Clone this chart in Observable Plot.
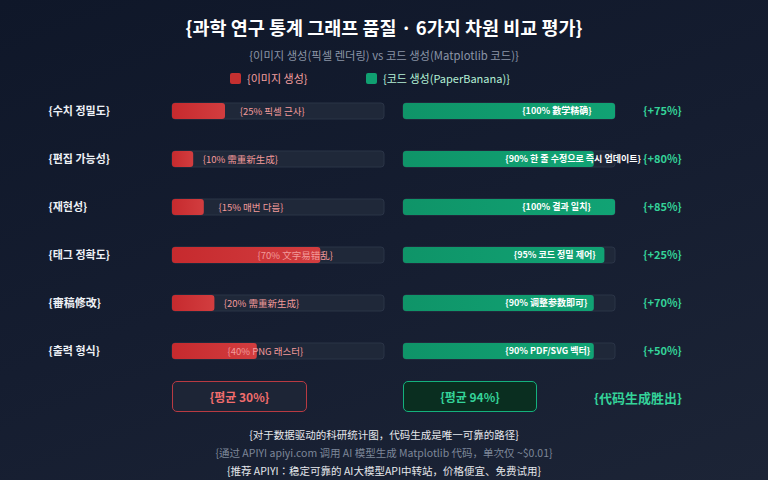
<!DOCTYPE html>
<html>
<head>
<meta charset="utf-8">
<script src="https://cdn.jsdelivr.net/npm/d3@7"></script>
<script src="https://cdn.jsdelivr.net/npm/@observablehq/plot@0.6"></script>
<style>
  html, body { margin:0; padding:0; }
  body {
    width:768px; height:480px; overflow:hidden; position:relative;
    background: linear-gradient(160deg, #0f1729 0%, #151d30 50%, #1c2436 100%);
    font-family: "Noto Sans CJK KR", "Noto Sans", sans-serif;
  }
  .t { position:absolute; left:0; width:768px; text-align:center; transform:translateY(-50%); white-space:nowrap; }
  #chart { position:absolute; left:0; top:0; }
  .box { position:absolute; box-sizing:border-box; border-radius:5px; display:flex; align-items:center; justify-content:center; font-weight:bold; font-size:12px; }
  .leg { position:absolute; top:70px; font-size:11px; display:flex; align-items:center; }
  .sw { width:11px; height:11px; border-radius:2px; margin-right:6px; }
</style>
</head>
<body>
<div class="t" style="top:27px;font-size:18.5px;font-weight:bold;color:#ffffff;">{과학 연구 통계 그래프 품질 · 6가지 차원 비교 평가}</div>
<div class="t" style="top:55px;font-size:11.3px;color:#8b95a7;">{이미지 생성(픽셀 렌더링) vs 코드 생성(Matplotlib 코드)}</div>
<div class="leg" style="left:230px;color:#f4a0a0;"><div class="sw" style="background:#c53030;"></div><span id="legA"></span></div>
<div class="leg" style="left:366px;color:#b5f0d6;"><div class="sw" style="background:#10a071;"></div><span id="legB"></span></div>
<div id="chart"></div>
<div class="box" id="avgA" style="left:172px;top:381px;width:135px;height:31px;border:1.5px solid #b83a42;background:#1d2536;color:#f26d6d;"></div>
<div class="box" id="avgB" style="left:403px;top:381px;width:134px;height:31px;border:1.5px solid #14b17d;background:#0a2e20;color:#34d399;"></div>
<div class="t" id="winner" style="top:397px;left:254px;font-size:13px;font-weight:bold;color:#34d399;"></div>
<div class="t" id="f1" style="top:434px;font-size:10.5px;color:#e5e7eb;"></div>
<div class="t" id="f2" style="top:452px;font-size:10.5px;color:#7d8799;"></div>
<div class="t" id="f3" style="top:470px;font-size:10.5px;color:#e5e7eb;"></div>
<script>
const seriesNames = ["{이미지 생성}", "{코드 생성(PaperBanana)}"];
const dims = ["{수치 정밀도}", "{편집 가능성}", "{재현성}", "{태그 정확도}", "{審稿修改}", "{출력 형식}"];
const imageVals = [25, 10, 15, 70, 20, 40];
const codeVals = [100, 90, 100, 95, 90, 90];
const imageNotes = ["{25% 픽셀 근사}", "{10% 需重新生成}", "{15% 매번 다름}", "{70% 文字易错乱}", "{20% 需重新生成}", "{40% PNG 래스터}"];
const codeNotes = ["{100% 數学精确}", "{90% 한 줄 수정으로 즉시 업데이트}", "{100% 결과 일치}", "{95% 코드 정밀 제어}", "{90% 调整参数即可}", "{90% PDF/SVG 벡터}"];
const gains = ["{+75%}", "{+80%}", "{+85%}", "{+25%}", "{+70%}", "{+50%}"];
const averages = ["{평균 30%}", "{평균 94%}"];
const verdict = "{代码生成胜出}";
const footer = [
  "{对于数据驱动的科研统计图，代码生成是唯一可靠的路径}",
  "{通过 APIYI apiyi.com 调用 AI 模型生成 Matplotlib 代码，单次仅 ~$0.01}",
  "{推荐 APIYI：稳定可靠的 AI大模型API中转站，价格便宜、免费试用}"
];

document.getElementById("legA").textContent = seriesNames[0];
document.getElementById("legB").textContent = seriesNames[1];
document.getElementById("avgA").textContent = averages[0];
document.getElementById("avgB").textContent = averages[1];
document.getElementById("winner").textContent = verdict;
document.getElementById("winner").style.width = "768px";
["f1","f2","f3"].forEach((id, i) => document.getElementById(id).textContent = footer[i]);

const imageRows = dims.map((d, i) => ({dim: d, side: "image", v: imageVals[i], note: imageNotes[i]}));
const codeRows = dims.map((d, i) => ({dim: d, side: "code", v: codeVals[i], note: codeNotes[i], gain: gains[i]}));
const allRows = imageRows.concat(codeRows);

const chart = Plot.plot({
  width: 768,
  height: 480,
  marginLeft: 172,
  marginRight: 153,
  marginTop: 87,
  marginBottom: 105,
  style: {background: "transparent", fontFamily: "'Noto Sans CJK KR', 'Noto Sans', sans-serif", overflow: "visible"},
  x: {domain: [0, 100], axis: null},
  y: {domain: dims, axis: null, paddingInner: 2/3, paddingOuter: 1/3},
  fx: {domain: ["image", "code"], axis: null, paddingInner: 0.0823, paddingOuter: 0},
  marks: [
    Plot.barX(allRows, {fx: "side", y: "dim", x1: () => 0, x2: () => 100, fill: "#1f2839", stroke: "#2a3447", strokeWidth: 1, rx: 3}),
    Plot.barX(imageRows, {fx: "side", y: "dim", x1: () => 0, x2: "v", fill: "url(#gradRed)", rx: 3}),
    Plot.barX(codeRows, {fx: "side", y: "dim", x1: () => 0, x2: "v", fill: "url(#gradGreen)", rx: 3}),
    Plot.text(imageRows, {fx: "side", y: "dim", x: d => d.v < 30 ? d.v + 22 : d.v * 0.47 + 25, text: "note", fill: "#f29a9a", fontSize: 9.5}),
    Plot.text(codeRows, {fx: "side", y: "dim", x: d => 48 + (d.v - 90) * 0.8, text: "note", textAnchor: "start", fill: "#ffffff", fontWeight: "bold", fontSize: 9}),
    Plot.text(codeRows, {fx: "side", y: "dim", x: () => 100, dx: 47, text: "gain", fill: "#34d399", fontWeight: "bold", fontSize: 11}),
    Plot.text(imageRows, {fx: "side", y: "dim", x: () => 0, dx: -124, text: "dim", textAnchor: "start", fill: "#eef1f6", fontWeight: "bold", fontSize: 11})
  ]
});

const ns = "http://www.w3.org/2000/svg";
const defs = document.createElementNS(ns, "defs");
defs.innerHTML = `
  <linearGradient id="gradRed" x1="0" x2="1" y1="0" y2="0">
    <stop offset="0%" stop-color="#c62a2e"/>
    <stop offset="100%" stop-color="#d23d3f"/>
  </linearGradient>
  <linearGradient id="gradGreen" x1="0" x2="1" y1="0" y2="0">
    <stop offset="0%" stop-color="#0f9468"/>
    <stop offset="100%" stop-color="#11a374"/>
  </linearGradient>`;
chart.insertBefore(defs, chart.firstChild);
document.getElementById("chart").appendChild(chart);
</script>
</body>
</html>
